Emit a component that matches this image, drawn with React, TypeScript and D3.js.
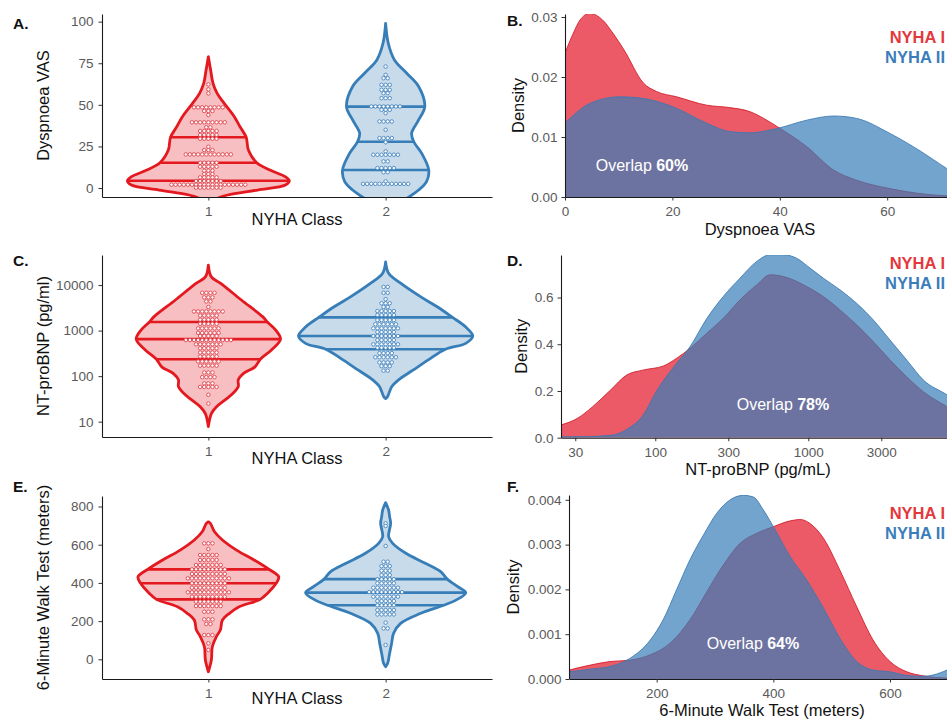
import React, { useRef, useEffect } from 'react';
import * as d3 from 'd3';

const FONT = 'Liberation Sans, Arial, Helvetica, sans-serif';
const RED = '#E3191F';
const BLUE = '#377EB8';

const nyhaClasses = ['1', '2'];
const groupLabels = ['NYHA I', 'NYHA II'];

// ---- Violin outlines: [value, relative density] ----
const vasViolinI = [[-10, 0], [-8, 0.03], [-6, 0.11], [-4.2, 0.22], [-1.2, 0.56], [1.8, 0.875], [4.4, 0.92], [6.8, 0.875], [10.8, 0.7], [15.2, 0.55], [22.8, 0.455], [30.5, 0.43], [36.8, 0.36], [42.9, 0.295], [50.9, 0.18], [56.9, 0.1], [62.9, 0.053], [70.9, 0.026], [78.9, 0]];
const vasViolinII = [[-14, 0], [-12, 0.06], [-8, 0.18], [-5.2, 0.27], [-1.2, 0.375], [3.8, 0.465], [10.8, 0.49], [20.8, 0.41], [27.8, 0.32], [32.9, 0.295], [40.9, 0.375], [48.9, 0.445], [61, 0.375], [69, 0.24], [77, 0.1], [87, 0.03], [99, 0]];
const bnpViolinI = [[7.8, 0], [15, 0.034], [21, 0.09], [30, 0.19], [42, 0.28], [59, 0.34], [83, 0.34], [115, 0.4], [160, 0.53], [235, 0.59], [380, 0.72], [650, 0.82], [1000, 0.77], [1550, 0.67], [2000, 0.62], [4700, 0.375], [11000, 0.136], [15100, 0.034], [27500, 0]];
const bnpViolinII = [[32, 0], [35, 0.02], [59, 0.07], [81, 0.14], [135, 0.31], [224, 0.48], [390, 0.68], [525, 0.91], [760, 0.99], [1200, 0.91], [1950, 0.76], [3300, 0.59], [5500, 0.4], [11000, 0.17], [18200, 0.034], [32400, 0]];
const walkViolinI = [[-65, 0], [-4, 0.034], [66, 0.045], [118, 0.09], [153, 0.136], [206, 0.16], [241, 0.24], [275, 0.35], [314, 0.59], [345, 0.67], [398, 0.77], [432, 0.8], [471, 0.69], [520, 0.52], [572, 0.32], [625, 0.16], [668, 0.07], [712, 0.023], [720, 0]];
const walkViolinII = [[-39, 0], [-21, 0.023], [31, 0.045], [84, 0.068], [136, 0.09], [188, 0.17], [241, 0.4], [283, 0.66], [310, 0.8], [349, 0.91], [380, 0.82], [420, 0.7], [459, 0.625], [503, 0.45], [555, 0.23], [607, 0.08], [642, 0.034], [712, 0.057], [747, 0.045], [781, 0.034], [820, 0]];

// ---- Quartiles (25%, 50%, 75%) ----
const vasQuartilesI = [4.4, 15.2, 30.5];
const vasQuartilesII = [10.8, 27.8, 48.9];
const bnpQuartilesI = [235, 650, 1550];
const bnpQuartilesII = [390, 760, 1950];
const walkQuartilesI = [314, 398, 471];
const walkQuartilesII = [283, 349, 420];

// ---- Dot rows: [value, number of patients] ----
const vasDotsI = [[62.3, 1], [59.3, 1], [56.9, 1], [48.5, 8], [46.3, 3], [43.9, 1], [39.5, 9], [36.5, 2], [34.3, 5], [31.9, 5], [29.6, 5], [24.8, 1], [22.8, 3], [20.2, 12], [15.2, 5], [12.8, 5], [10.4, 3], [8.4, 3], [6.4, 5], [4.2, 7], [2.0, 19], [0.2, 7]];
const vasDotsII = [[73, 1], [68, 1], [66, 2], [62, 3], [59, 3], [57, 2], [54, 3], [49, 8], [47, 3], [45, 1], [40, 4], [35, 1], [30, 4], [27.5, 1], [22, 1], [20, 7], [16, 2], [12, 5], [9.5, 2], [4, 1], [2.5, 12]];
const bnpDotsI = [[6760, 4], [5370, 3], [4370, 2], [3310, 1], [2630, 8], [2140, 5], [1740, 5], [1410, 5], [1120, 6], [890, 6], [760, 5], [620, 12], [500, 7], [410, 5], [330, 5], [270, 5], [210, 6], [170, 5], [120, 3], [95, 4], [69, 3], [58, 5], [39, 1], [25, 1]];
const bnpDotsII = [[9100, 2], [6760, 2], [4900, 1], [3980, 3], [3310, 2], [2690, 5], [2190, 5], [1700, 5], [1380, 6], [1120, 7], [930, 5], [760, 7], [620, 5], [500, 7], [420, 5], [320, 4], [260, 6], [200, 4], [166, 3], [132, 2]];
const walkDotsI = [[607, 3], [577, 1], [546, 5], [520, 5], [494, 7], [471, 9], [447, 9], [424, 11], [398, 9], [375, 9], [351, 11], [328, 9], [302, 7], [279, 7], [249, 3], [209, 3], [185, 2], [127, 3], [84, 1], [49, 1]];
const walkDotsII = [[712, 1], [698, 1], [593, 1], [511, 2], [488, 3], [464, 3], [441, 3], [419, 5], [398, 5], [375, 7], [352, 9], [328, 7], [305, 5], [283, 5], [258, 5], [235, 5], [192, 1], [162, 2], [75, 1]];

// ---- Density curves: [x, density] ----
const vasDensityI = [[0, 0.024], [1.5, 0.0272], [2.8, 0.0295], [4.6, 0.0306], [7, 0.0295], [9, 0.0272], [11, 0.0245], [14.6, 0.019], [17, 0.0176], [20.8, 0.0167], [26.4, 0.0153], [30.7, 0.0149], [34.5, 0.0142], [37, 0.0131], [39.4, 0.0118], [45, 0.0084], [50, 0.0045], [54.3, 0.0028], [60.5, 0.0014], [66.8, 0.0005], [71, 0.0002], [80, 0]];
const vasDensityII = [[0, 0.0123], [4.65, 0.0156], [10.2, 0.0167], [14, 0.0165], [20.2, 0.015], [26.4, 0.0123], [30.7, 0.0109], [34.5, 0.0107], [39.4, 0.0114], [45, 0.0128], [50, 0.0135], [54.3, 0.0131], [60.5, 0.0106], [66.8, 0.0073], [71, 0.0048], [75, 0.0028], [80, 0.0013], [85, 0.0005], [90, 0.0001]];
const bnpDensityI = [[24, 0.054], [31, 0.083], [39, 0.133], [51, 0.204], [65, 0.268], [84, 0.29], [113, 0.307], [138, 0.34], [169, 0.383], [217, 0.447], [278, 0.511], [358, 0.59], [460, 0.654], [562, 0.697], [687, 0.69], [977, 0.647], [1253, 0.604], [1611, 0.547], [2070, 0.483], [2660, 0.411], [3420, 0.333], [4395, 0.261], [5650, 0.197], [8070, 0.133], [12000, 0.07]];
const bnpDensityII = [[24, 0.004], [37, 0.005], [51, 0.01], [65, 0.035], [84, 0.1], [102, 0.2], [131, 0.3], [169, 0.39], [217, 0.51], [278, 0.604], [358, 0.683], [460, 0.754], [562, 0.783], [687, 0.783], [840, 0.768], [1026, 0.726], [1253, 0.683], [1611, 0.633], [2070, 0.575], [2660, 0.504], [3420, 0.418], [4395, 0.333], [5650, 0.247], [8070, 0.183], [12000, 0.1]];
const walkDensityI = [[50, 0.0002], [86, 0.00031], [120, 0.00039], [154, 0.00042], [189, 0.00054], [223, 0.0008], [257, 0.00132], [286, 0.00195], [314, 0.00254], [343, 0.00303], [371, 0.00325], [400, 0.0034], [429, 0.00353], [446, 0.00356], [463, 0.00347], [486, 0.00314], [514, 0.00243], [543, 0.00161], [571, 0.00087], [600, 0.00039], [629, 0.00016], [657, 0.00007], [698, 0.00002]];
const walkDensityII = [[50, 0.00016], [86, 0.00022], [120, 0.00028], [154, 0.00046], [189, 0.00087], [211, 0.00132], [234, 0.00199], [257, 0.00266], [280, 0.00321], [303, 0.0037], [326, 0.004], [349, 0.0041], [366, 0.00406], [383, 0.00377], [400, 0.0034], [429, 0.00273], [457, 0.00221], [486, 0.00158], [514, 0.00091], [543, 0.00039], [571, 0.0002], [600, 0.00016], [629, 0.00008], [657, 0.00006], [674, 0.00009], [698, 0.0002]];

const overlapLabels = ['60%', '78%', '64%'];

function styleAxis(g, size = 13.5) {
    g.select('.domain').attr('stroke', '#1a1a1a').attr('stroke-width', 1.1);
    g.selectAll('.tick line').attr('stroke', '#333').attr('stroke-width', 1);
    g.selectAll('.tick text')
        .attr('fill', '#5a5a5a')
        .attr('font-size', size)
        .attr('font-family', FONT);
}

function drawViolinPanel(svg, p) {
    const left = 102, right = 492;
    const x = d3.scalePoint().domain(nyhaClasses).range([left, right]).padding(0.6);
    const w = d3.scaleLinear().domain([0, 1]).range([0, 88]);
    const key = p.log ? (v => Math.log10(v)) : (v => v);

    svg.append('clipPath').attr('id', `clip-${p.id}`)
        .append('rect').attr('x', left).attr('y', p.top).attr('width', right - left).attr('height', p.bottom - p.top);
    const g = svg.append('g').attr('clip-path', `url(#clip-${p.id})`);

    p.groups.forEach((grp, i) => {
        const cx = x(nyhaClasses[i]);
        const color = i === 0 ? RED : BLUE;
        const dotStroke = i === 0 ? '#E24750' : '#4A88C0';

        const area = d3.area()
            .y(d => p.y(d[0]))
            .x0(d => cx - w(d[1]))
            .x1(d => cx + w(d[1]))
            .curve(d3.curveCatmullRom);

        g.append('path')
            .datum(grp.outline)
            .attr('d', area)
            .attr('fill', color)
            .attr('fill-opacity', 0.28)
            .attr('stroke', color)
            .attr('stroke-width', 2.8)
            .attr('stroke-linejoin', 'round');

        // quartile lines, edge to edge
        const widthAt = d3.scaleLinear()
            .domain(grp.outline.map(d => key(d[0])))
            .range(grp.outline.map(d => d[1]));
        g.selectAll(null)
            .data(grp.quartiles)
            .join('line')
            .attr('x1', q => cx - w(widthAt(key(q))))
            .attr('x2', q => cx + w(widthAt(key(q))))
            .attr('y1', q => p.y(q))
            .attr('y2', q => p.y(q))
            .attr('stroke', color)
            .attr('stroke-width', 2.6);

        // dot plot rows
        const dots = grp.dots.flatMap(([v, n]) => d3.range(n).map(k => ({ v, off: k - (n - 1) / 2 })));
        g.selectAll(null)
            .data(dots)
            .join('circle')
            .attr('cx', d => cx + d.off * 4.1)
            .attr('cy', d => p.y(d.v))
            .attr('r', 1.75)
            .attr('fill', 'white')
            .attr('stroke', dotStroke)
            .attr('stroke-width', 0.95);
    });

    svg.append('g')
        .attr('transform', `translate(${left},0)`)
        .call(d3.axisLeft(p.y).tickValues(p.yTicks).tickFormat(p.yFormat).tickSize(3.5).tickSizeOuter(0).tickPadding(5))
        .call(styleAxis);

    svg.append('g')
        .attr('transform', `translate(0,${p.bottom})`)
        .call(d3.axisBottom(x).tickSize(3.5).tickSizeOuter(0).tickPadding(6))
        .call(styleAxis);

    svg.append('text')
        .attr('x', 297).attr('y', p.xTitleY).attr('dy', '0.35em')
        .attr('text-anchor', 'middle').attr('font-size', 16.5).attr('font-family', FONT).attr('fill', '#111')
        .text('NYHA Class');

    svg.append('text')
        .attr('transform', `translate(43,${(p.top + p.bottom) / 2}) rotate(-90)`)
        .attr('dy', '0.35em')
        .attr('text-anchor', 'middle').attr('font-size', 16.5).attr('font-family', FONT).attr('fill', '#111')
        .text(p.yTitle);

    svg.append('text')
        .attr('x', 13).attr('y', p.letterY).attr('dy', '0.35em')
        .attr('font-size', 15.5).attr('font-weight', 'bold').attr('font-family', FONT).attr('fill', '#111')
        .text(p.letter);
}

function drawDensityPanel(svg, p) {
    const width = 947;
    svg.append('clipPath').attr('id', `clip-${p.id}`)
        .append('rect').attr('x', p.left).attr('y', p.top).attr('width', width - p.left).attr('height', p.bottom - p.top);
    const g = svg.append('g').attr('clip-path', `url(#clip-${p.id})`);

    const area = d3.area()
        .x(d => p.x(d[0]))
        .y0(p.bottom)
        .y1(d => p.y(d[1]))
        .curve(d3.curveMonotoneX);
    const line = d3.line()
        .x(d => p.x(d[0]))
        .y(d => p.y(d[1]))
        .curve(d3.curveMonotoneX);

    [[p.red, '#E41A2E', 0.72, '#D01A25'], [p.blue, BLUE, 0.7, '#3A78B3']].forEach(([data, fill, op, stroke]) => {
        g.append('path').datum(data).attr('d', area).attr('fill', fill).attr('fill-opacity', op);
        g.append('path').datum(data).attr('d', line).attr('fill', 'none').attr('stroke', stroke).attr('stroke-width', 1).attr('stroke-opacity', 0.85);
    });

    svg.append('g')
        .attr('transform', `translate(${p.left},0)`)
        .call(d3.axisLeft(p.y).tickValues(p.yTicks).tickFormat(p.yFormat).tickSize(3.5).tickSizeOuter(0).tickPadding(4))
        .call(styleAxis);

    svg.append('g')
        .attr('transform', `translate(0,${p.bottom})`)
        .call(d3.axisBottom(p.x).tickValues(p.xTicks).tickFormat(p.xFormat).tickSize(3.5).tickSizeOuter(0).tickPadding(6))
        .call(styleAxis);

    svg.append('text')
        .attr('x', p.xTitleX).attr('y', p.xTitleY).attr('dy', '0.35em')
        .attr('text-anchor', 'middle').attr('font-size', 16.5).attr('font-family', FONT).attr('fill', '#111')
        .text(p.xTitle);

    svg.append('text')
        .attr('transform', `translate(${p.yTitleX},${(p.top + p.bottom) / 2}) rotate(-90)`)
        .attr('dy', '0.35em')
        .attr('text-anchor', 'middle').attr('font-size', 16.5).attr('font-family', FONT).attr('fill', '#111')
        .text('Density');

    svg.append('text')
        .attr('x', 507).attr('y', p.letterY).attr('dy', '0.35em')
        .attr('font-size', 15.5).attr('font-weight', 'bold').attr('font-family', FONT).attr('fill', '#111')
        .text(p.letter);

    const ov = svg.append('text')
        .attr('x', p.overlapX).attr('y', p.overlapY).attr('dy', '0.35em')
        .attr('text-anchor', 'middle').attr('font-size', 16).attr('font-family', FONT).attr('fill', 'white');
    ov.append('tspan').text('Overlap ');
    ov.append('tspan').attr('font-weight', 'bold').text(p.overlap);

    groupLabels.forEach((lab, i) => {
        svg.append('text')
            .attr('x', 945).attr('y', p.legendY + i * 20).attr('dy', '0.35em')
            .attr('text-anchor', 'end').attr('font-size', 16.5).attr('font-weight', 'bold').attr('font-family', FONT)
            .attr('fill', i === 0 ? '#E3383E' : '#3B7DBA')
            .text(lab);
    });
}

export default function App() {
    const svgRef = useRef(null);
    const width = 947, height = 719;

    useEffect(() => {
        const svg = d3.select(svgRef.current);
        svg.selectAll('*').remove();

        // ---- left column: violins ----
        drawViolinPanel(svg, {
            id: 'a', letter: 'A.', letterY: 24, top: 14, bottom: 197,
            y: d3.scaleLinear().domain([-5.4, 104.6]).range([197, 14]),
            yTicks: [0, 25, 50, 75, 100], yFormat: d3.format('d'),
            yTitle: 'Dyspnoea VAS', xTitleY: 219,
            groups: [
                { outline: vasViolinI, quartiles: vasQuartilesI, dots: vasDotsI },
                { outline: vasViolinII, quartiles: vasQuartilesII, dots: vasDotsII },
            ],
        });
        drawViolinPanel(svg, {
            id: 'c', letter: 'C.', letterY: 261, top: 255, bottom: 437, log: true,
            y: d3.scaleLog().domain([4.61, 45700]).range([437, 255]),
            yTicks: [10, 100, 1000, 10000], yFormat: d3.format('d'),
            yTitle: 'NT-proBNP (pg/ml)', xTitleY: 458,
            groups: [
                { outline: bnpViolinI, quartiles: bnpQuartilesI, dots: bnpDotsI },
                { outline: bnpViolinII, quartiles: bnpQuartilesII, dots: bnpDotsII },
            ],
        });
        drawViolinPanel(svg, {
            id: 'e', letter: 'E.', letterY: 487, top: 496, bottom: 679,
            y: d3.scaleLinear().domain([-103, 855]).range([679, 496]),
            yTicks: [0, 200, 400, 600, 800], yFormat: d3.format('d'),
            yTitle: '6-Minute Walk Test (meters)', xTitleY: 698,
            groups: [
                { outline: walkViolinI, quartiles: walkQuartilesI, dots: walkDotsI },
                { outline: walkViolinII, quartiles: walkQuartilesII, dots: walkDotsII },
            ],
        });

        // ---- right column: densities ----
        drawDensityPanel(svg, {
            id: 'b', letter: 'B.', letterY: 21, left: 565, top: 14, bottom: 197,
            x: d3.scaleLinear().domain([0, 100]).range([565, 565 + 537]),
            y: d3.scaleLinear().domain([0, 0.0305]).range([197, 14]),
            xTicks: [0, 20, 40, 60], xFormat: d3.format('d'),
            yTicks: [0, 0.01, 0.02, 0.03], yFormat: d3.format('.2f'),
            xTitle: 'Dyspnoea VAS', xTitleX: 760, xTitleY: 229, yTitleX: 518,
            red: vasDensityI, blue: vasDensityII,
            overlap: overlapLabels[0], overlapX: 642, overlapY: 165, legendY: 37,
        });
        drawDensityPanel(svg, {
            id: 'd', letter: 'D.', letterY: 261, left: 561, top: 255, bottom: 437.7,
            x: d3.scaleLog().domain([24.2, 31623]).range([561, 1037.8]),
            y: d3.scaleLinear().domain([0, 0.782]).range([437.7, 255]),
            xTicks: [30, 100, 300, 1000, 3000], xFormat: d3.format('d'),
            yTicks: [0, 0.2, 0.4, 0.6], yFormat: d3.format('.1f'),
            xTitle: 'NT-proBNP (pg/mL)', xTitleX: 758, xTitleY: 469, yTitleX: 521,
            red: bnpDensityI, blue: bnpDensityII,
            overlap: overlapLabels[1], overlapX: 783, overlapY: 404, legendY: 263,
        });
        drawDensityPanel(svg, {
            id: 'f', letter: 'F.', letterY: 487, left: 569, top: 495, bottom: 679,
            x: d3.scaleLinear().domain([50, 800]).range([569.2, 569.2 + 750 * 0.5833]),
            y: d3.scaleLinear().domain([0, 0.004107]).range([679, 495]),
            xTicks: [200, 400, 600], xFormat: d3.format('d'),
            yTicks: [0, 0.001, 0.002, 0.003, 0.004], yFormat: d3.format('.3f'),
            xTitle: '6-Minute Walk Test (meters)', xTitleX: 762, xTitleY: 710, yTitleX: 513,
            red: walkDensityI, blue: walkDensityII,
            overlap: overlapLabels[2], overlapX: 753, overlapY: 643, legendY: 513,
        });
    }, []);

    return (
        <svg
            ref={svgRef}
            width={width}
            height={height}
            style={{ position: 'absolute', left: 0, top: 0, background: 'white', fontFamily: FONT }}
        />
    );
}
